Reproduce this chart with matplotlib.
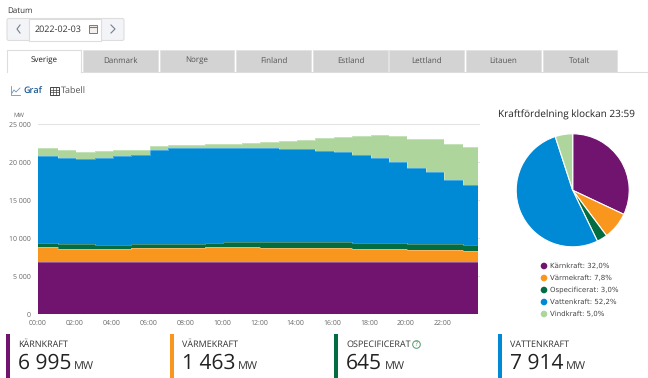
import numpy as np
import matplotlib
matplotlib.use('Agg')
import matplotlib.pyplot as plt
from matplotlib.patches import Rectangle, FancyBboxPatch, Circle

plt.rcParams['font.family'] = ['Open Sans', 'DejaVu Sans']
plt.rcParams['text.hinting'] = 'no_hinting'
plt.rcParams['text.hinting_factor'] = 1

# colours
PURPLE, ORANGE, GREEN, BLUE, LIGHT = '#70146f', '#f8961e', '#046c41', '#0089d4', '#aed69c'
TEXT, GREY = '#333333', '#666666'

# time steps of the chart (hour where each step starts, last one is the end)
step_hours = [0, 1.08, 2.08, 3.08, 4.08, 5.08, 6.08, 7.08, 8.08, 9.08, 10.08, 11.08,
              12.08, 13.08, 14.08, 15.08, 16.08, 17.08, 18.08, 19.08, 20.08, 21.08,
              22.08, 23.08, 23.9]

# tops of each stacked layer in MW
karn_top = [6930] * 24
varme_top = [8810, 8590, 8550, 8550, 8550, 8680, 8680, 8680, 8680, 8810, 8810, 8810,
             8770, 8770, 8770, 8730, 8680, 8590, 8590, 8590, 8510, 8510, 8420, 8380]
ospec_top = [9380, 9250, 9210, 9170, 9170, 9300, 9300, 9300, 9300, 9430, 9470, 9560,
             9470, 9470, 9470, 9470, 9470, 9340, 9340, 9340, 9300, 9210, 9210, 9080]
vatten_top = [20790, 20610, 20480, 20610, 20790, 21010, 21620, 21840, 21890, 21930, 21930, 21930,
              21890, 21800, 21710, 21540, 21320, 20920, 20530, 20000, 19300, 18680, 17720, 17020]
vind_top = [21840, 21620, 21400, 21490, 21620, 21670, 22150, 22280, 22320, 22410, 22460, 22540,
            22630, 22850, 22940, 23160, 23290, 23510, 23550, 23420, 23110, 23030, 22460, 22020]

y_ticks = [0, 5000, 10000, 15000, 20000, 25000]
y_labels = ['0', '5 000', '10 000', '15 000', '20 000', '25 000']
x_ticks = list(range(0, 24, 2))
x_labels = [f'{h:02d}:00' for h in x_ticks]

# pie and its legend
pie_names = ['Kärnkraft', 'Värmekraft', 'Ospecificerat', 'Vattenkraft', 'Vindkraft']
pie_values = [32.0, 7.8, 3.0, 52.2, 5.0]
pie_colors = [PURPLE, ORANGE, GREEN, BLUE, LIGHT]

# page elements
tab_names = ['Sverige', 'Danmark', 'Norge', 'Finland', 'Estland', 'Lettland', 'Litauen', 'Totalt']
tab_edges = [(7, 81), (83, 158), (160, 234), (236, 311), (313, 388), (389, 464), (466, 541), (543, 617)]
kpi_names = ['KÄRNKRAFT', 'VÄRMEKRAFT', 'OSPECIFICERAT', 'VATTENKRAFT']
kpi_values = ['6 995', '1 463', '645', '7 914']
kpi_x = [6, 170, 334, 498]
kpi_colors = [PURPLE, ORANGE, GREEN, BLUE]
kpi_mw_x = [74, 238, 385, 566]

W, H = 648, 378
fig = plt.figure(figsize=(W / 100, H / 100), dpi=100)

# page layer in pixel coordinates
ui = fig.add_axes([0, 0, 1, 1])
ui.set_xlim(0, W)
ui.set_ylim(H, 0)
ui.axis('off')

ui.text(7, 10.5, 'Datum', fontsize=5.8, color=TEXT, va='center')

# date picker
ui.add_patch(FancyBboxPatch((7, 18.5), 117, 22, boxstyle='round,pad=0,rounding_size=2',
                            fc='#f3f4f7', ec='#dddddd', lw=0.8))
ui.add_patch(Rectangle((29, 18.5), 72, 22, fc='white', ec='#dddddd', lw=0.8))
ui.text(34.5, 29.5, '2022-02-03', fontsize=6.2, color=TEXT, va='center')
ui.plot([20, 17, 20], [25, 29, 33], color='#77808c', lw=0.8)
ui.plot([111, 115, 111], [25, 29, 33], color='#77808c', lw=0.8)
ui.add_patch(Rectangle((88.5, 25), 8.5, 8, fc='#f3f0ee', ec='#7a7a7a', lw=0.7))
ui.plot([88.5, 97], [27, 27], color='#7a7a7a', lw=0.8)

# tabs
ui.plot([81, 647], [71.5, 71.5], color='#dddddd', lw=0.8)
for name, (x0, x1) in zip(tab_names, tab_edges):
    active = name == 'Sverige'
    if active:
        ui.plot([x0, x0, x1, x1], [72, 49.5, 49.5, 72], color='#dddddd', lw=0.8)
    else:
        ui.add_patch(Rectangle((x0, 49.5), x1 - x0, 22, fc='#d3d3d3', ec='#e2e2e2', lw=0.6))
    ui.text((x0 + x1) / 2, 60.5, name, fontsize=5.8, ha='center', va='center',
            color='#222222' if active else '#555555')

# graf / tabell switch
ui.plot([11, 11, 20], [86, 95, 95], color='#6d94bd', lw=0.6)
ui.plot([12, 14, 16, 20], [93, 90, 92, 88], color='#6d94bd', lw=0.6)
ui.text(23, 90.5, 'Graf', fontsize=6.2, color='#1c5a94', va='center', fontweight='semibold')
ui.add_patch(Rectangle((50, 87), 8.5, 8, fc='white', ec='#444444', lw=0.7))
for yy in (89.5, 92):
    ui.plot([50, 58.5], [yy, yy], color='#444444', lw=0.5)
for xx in (53, 55.5):
    ui.plot([xx, xx], [87, 95], color='#444444', lw=0.5)
ui.text(61, 90.5, 'Tabell', fontsize=6.4, color='#555555', va='center')

# stacked step chart
ax = fig.add_axes([38 / W, (H - 314.3) / H, 441.6 / W, 190 / H], facecolor='none')
layers = [(karn_top, PURPLE), (varme_top, ORANGE), (ospec_top, GREEN), (vatten_top, BLUE), (vind_top, LIGHT)]
lower = np.zeros(len(step_hours))
for top, color in layers:
    upper = np.array(top + top[-1:], dtype=float)
    ax.fill_between(step_hours, lower, upper, step='post', color=color, lw=0, zorder=2)
    ax.step(step_hours, upper, where='post', color='white', alpha=0.4, lw=0.5, zorder=3)
    lower = upper
ax.axhline(0, color=PURPLE, lw=0.8, alpha=0.6, zorder=3)
ax.set_xlim(0, 24)
ax.set_ylim(0, 25000)
ax.set_xticks(x_ticks, x_labels)
ax.set_yticks(y_ticks, y_labels)
ax.tick_params(length=0, labelsize=5.3, labelcolor=GREY)
ax.tick_params(axis='y', pad=5.5)
ax.tick_params(axis='x', pad=4)
ax.grid(axis='y', color='#e3e3e3', lw=0.8, zorder=0)
ax.set_axisbelow(True)
for side in ax.spines.values():
    side.set_visible(False)
ui.text(19, 115, 'MW', fontsize=4.3, color=GREY, ha='center', va='center')

# pie
ui.text(566.5, 115, 'Kraftfördelning klockan 23:59', fontsize=7.5, color='#222222', ha='center', va='center')
pie_ax = fig.add_axes([(572.7 - 57) / W, (H - 190.3 - 57) / H, 114 / W, 114 / H])
pie_ax.pie(pie_values, colors=pie_colors, startangle=90, counterclock=False, radius=56.5 / 57,
           wedgeprops={'edgecolor': 'white', 'linewidth': 0.8})
pie_ax.set_xlim(-1, 1)
pie_ax.set_ylim(-1, 1)

for i, (name, val, color) in enumerate(zip(pie_names, pie_values, pie_colors)):
    yy = 266 + 12 * i
    ui.add_patch(Circle((544, yy), 3.3, fc=color, ec='none'))
    ui.text(550, yy, f'{name}: {val:.1f}%'.replace('.', ','), fontsize=5.3, color='#444444',
            va='center', family=['DejaVu Sans'])

# figures under the chart
for name, val, x, color, mw_x in zip(kpi_names, kpi_values, kpi_x, kpi_colors, kpi_mw_x):
    ui.add_patch(Rectangle((x, 334), 4, 44, fc=color, ec='none'))
    ui.text(x + 12, 345, name, fontsize=6.3, color=TEXT, va='center')
    ui.text(x + 11.5, 363, val, fontsize=15, color='#222222', va='center')
    ui.text(mw_x, 366, 'MW', fontsize=7.8, color=TEXT, va='center')
ui.add_patch(Circle((416.5, 344.5), 3.8, fc='white', ec='#4c9a6a', lw=0.7))
ui.text(416.5, 344.5, '?', fontsize=4.8, color='#4c9a6a', ha='center', va='center')

fig.savefig('out.png', dpi=100)
